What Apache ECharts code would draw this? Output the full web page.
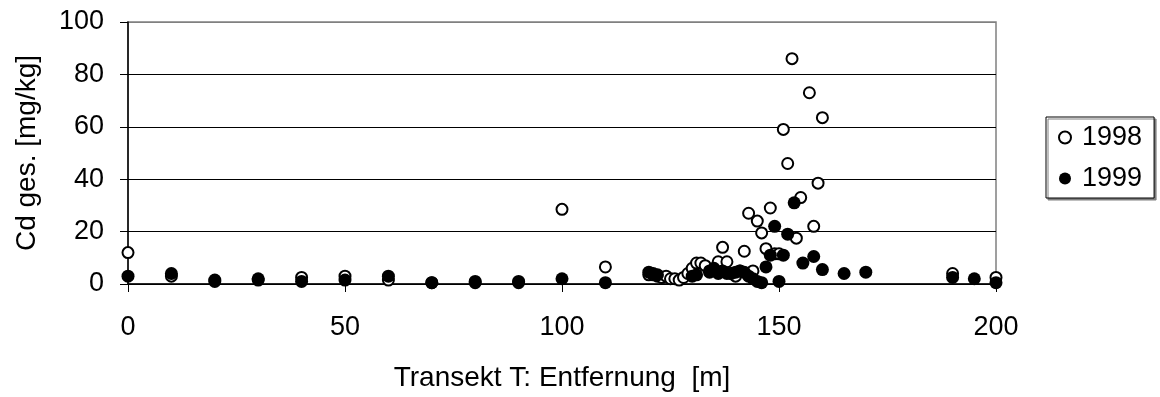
<!DOCTYPE html>
<html>
<head>
<meta charset="utf-8">
<script src="https://cdn.jsdelivr.net/npm/echarts@6/dist/echarts.min.js"></script>
<style>
  html, body { margin: 0; padding: 0; background: #fff; }
  #chart { width: 1160px; height: 397px; }
</style>
</head>
<body>
<div id="chart"></div>
<script>
// Daten: [Entfernung m, Cd mg/kg]
var data1998 = [
  [0, 12], [10, 3], [20, 1], [30, 1.5], [40, 2.5], [50, 3], [60, 1.5], [70, 0.5], [80, 0.5], [90, 0.5],
  [100, 28.5], [110, 6.5],
  [120, 3.5], [121, 3.5], [122, 3], [123, 2.5], [124, 3], [125, 2], [126, 2], [127, 1.5], [128, 2.5],
  [129, 4], [130, 6], [131, 8], [132, 8], [133, 7], [134, 5], [135, 5.5], [136, 8.5], [137, 14],
  [138, 8.5], [139, 4], [140, 3], [141, 5], [142, 12.5], [143, 27], [144, 5], [145, 24], [146, 19.5],
  [147, 13.5], [148, 29], [149, 11.5], [150, 11.5], [151, 59], [152, 46], [153, 86], [154, 17.5],
  [155, 33], [157, 73], [158, 22], [159, 38.5], [160, 63.5], [190, 4], [200, 2.5]
];
var data1999 = [
  [0, 3], [10, 4], [20, 1.5], [30, 2], [40, 1], [50, 1.5], [60, 3], [70, 0.5], [80, 1], [90, 1],
  [100, 2], [110, 0.5],
  [120, 4.5], [121, 4], [122, 3.5], [130, 3], [131, 3.5], [134, 4.5], [135, 6], [136, 4], [137, 5],
  [138, 4], [139, 4], [140, 4.5], [141, 5], [142, 4.5], [143, 3], [144, 2], [145, 1], [146, 0.5],
  [147, 6.5], [148, 11], [149, 22], [150, 1], [151, 11], [152, 19], [153.5, 31], [155.5, 8],
  [158, 10.5], [160, 5.5], [165, 4], [170, 4.5], [190, 2.5], [195, 2], [200, 0.5]
];
var seriesNames = ['1998', '1999'];
var xTicks = { min: 0, max: 200, interval: 50 };
var yTicks = { min: 0, max: 100, interval: 20 };

var font = 'Liberation Sans, Arial, sans-serif';
var fs = 27;
var chart = echarts.init(document.getElementById('chart'));

var option = {
  animation: false,
  grid: {
    left: 128,
    right: 164,
    top: 22,
    bottom: 110,
    show: true,
    borderColor: '#808080',
    borderWidth: 1.5,
    backgroundColor: 'transparent'
  },
  legend: {
    orient: 'vertical',
    left: 1046,
    top: 117,
    padding: [7, 12, 6, 12],
    itemGap: 14,
    itemWidth: 12,
    itemHeight: 12,
    borderColor: '#000',
    borderWidth: 1,
    shadowColor: '#808080',
    shadowOffsetX: 2,
    shadowOffsetY: 2,
    backgroundColor: '#fff',
    textStyle: { fontFamily: font, fontSize: fs, color: '#000', padding: [0, 0, 0, 6] },
    data: seriesNames
  },
  xAxis: {
    type: 'value',
    min: xTicks.min,
    max: xTicks.max,
    interval: xTicks.interval,
    name: 'Transekt T: Entfernung  [m]',
    nameLocation: 'middle',
    nameGap: 80,
    nameTextStyle: { fontFamily: font, fontSize: 28, color: '#000' },
    axisLine: { lineStyle: { color: '#000', width: 1.5 } },
    axisTick: { show: true, length: 8, lineStyle: { color: '#000' } },
    axisLabel: { fontFamily: font, fontSize: fs, color: '#000', margin: 30 },
    splitLine: { show: false }
  },
  yAxis: {
    type: 'value',
    min: yTicks.min,
    max: yTicks.max,
    interval: yTicks.interval,
    name: 'Cd ges. [mg/kg]',
    nameLocation: 'middle',
    nameGap: 87,
    nameTextStyle: { fontFamily: font, fontSize: 28, color: '#000' },
    axisLine: { show: true, lineStyle: { color: '#000', width: 1.5 } },
    axisTick: { show: true, length: 8, lineStyle: { color: '#000' } },
    axisLabel: { fontFamily: font, fontSize: fs, color: '#000', margin: 24 },
    splitLine: {
      show: true,
      lineStyle: { color: ['#000', '#000', '#000', '#000', '#000', '#808080'], width: 1 }
    }
  },
  series: [
    {
      name: seriesNames[0],
      type: 'scatter',
      symbol: 'circle',
      symbolSize: 11,
      itemStyle: { color: '#fff', borderColor: '#000', borderWidth: 2, opacity: 1 },
      data: data1998
    },
    {
      name: seriesNames[1],
      type: 'scatter',
      symbol: 'circle',
      symbolSize: 13,
      itemStyle: { color: '#000', borderColor: '#000', borderWidth: 0, opacity: 1 },
      data: data1999
    }
  ]
};
chart.setOption(option);
</script>
</body>
</html>
